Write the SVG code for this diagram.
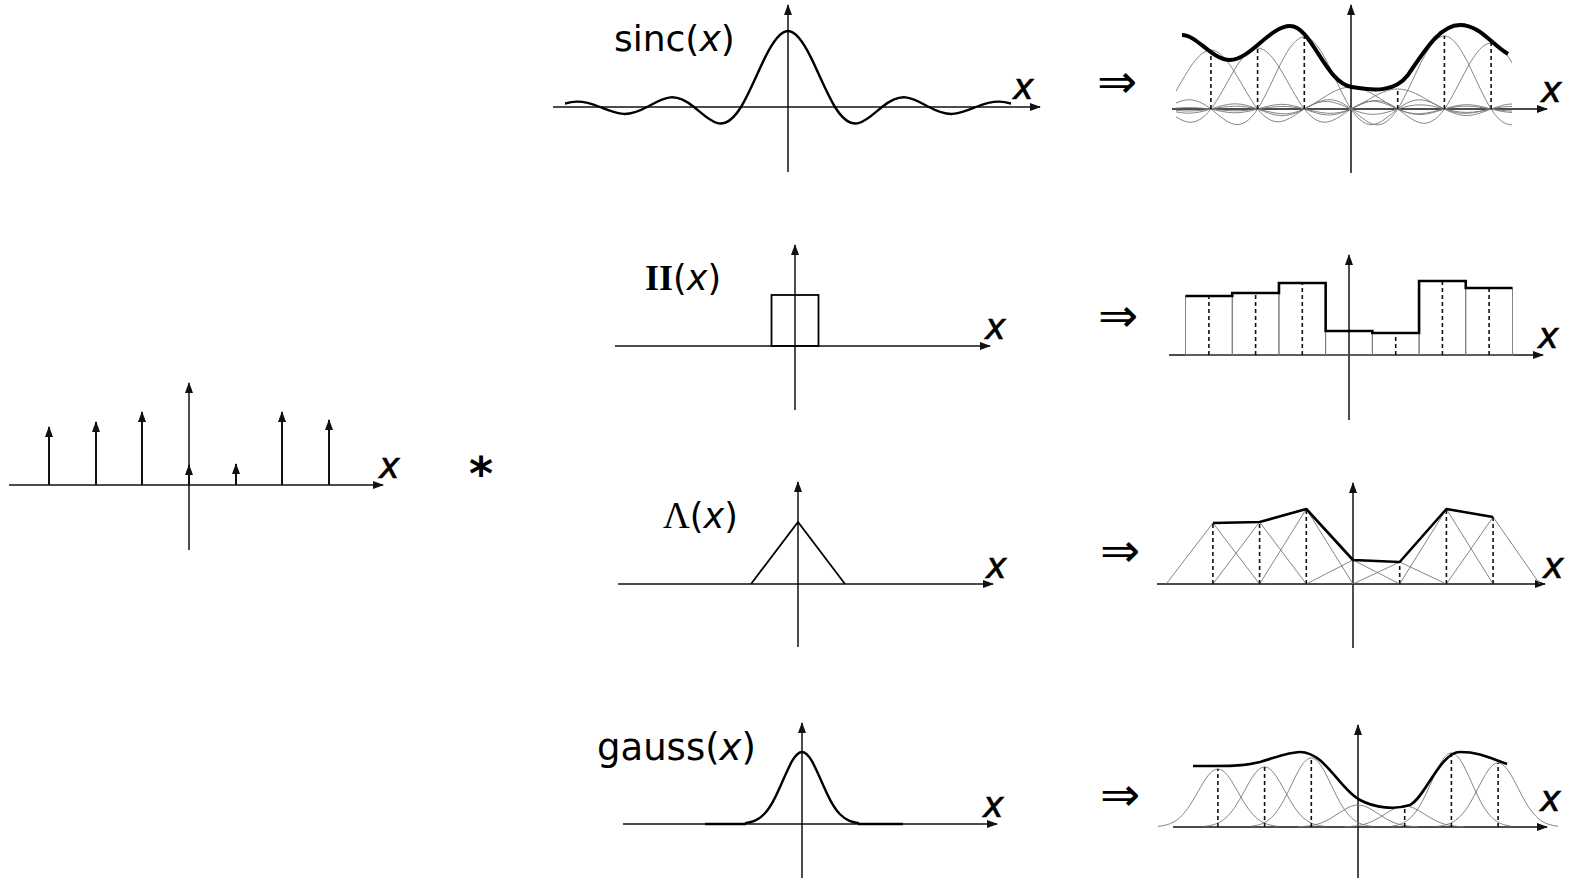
<svg xmlns="http://www.w3.org/2000/svg" width="1572" height="878" viewBox="0 0 1572 878">
<style>
.ax{stroke:#111;stroke-width:1.5;fill:none}
.imp{stroke:#111;stroke-width:2;fill:none}
.ker{stroke:#000;stroke-width:2.4;fill:none}
.thin{stroke:#777;stroke-width:0.9;fill:none}
.dash{stroke:#111;stroke-width:1.6;stroke-dasharray:4 3;fill:none}
.thick{stroke:#000;stroke-width:2.6;fill:none;stroke-linejoin:round}
.lbl{font-family:"DejaVu Sans","Open Sans",sans-serif;fill:#000}
.it{font-style:italic}
.ser{font-family:"Liberation Serif","DejaVu Serif",serif;fill:#000}
.axl{font-family:"DejaVu Sans","Open Sans",sans-serif;font-style:italic;font-size:35px;fill:#000;stroke:#000;stroke-width:0.6}
.arr{font-family:"DejaVu Sans",sans-serif;font-size:48px;fill:#000;text-anchor:middle}
</style>
<defs>
<marker id="ah" viewBox="0 0 11 8" refX="10" refY="4" markerWidth="11" markerHeight="8" markerUnits="userSpaceOnUse" orient="auto"><path d="M0,0 L11,4 L0,8 z" fill="#111"/></marker>
<path id="sinc" vector-effect="non-scaling-stroke" fill="none" d="M-6,0 C-5.8333,0.0278 -5.6667,0.0561 -5.5,0.0579 C-5.3333,0.0596 -5.1667,0.0333 -5,0 C-4.8333,-0.0333 -4.6667,-0.0681 -4.5,-0.0707 C-4.3333,-0.0734 -4.1667,-0.0417 -4,0 C-3.8333,0.0417 -3.6667,0.0866 -3.5,0.0910 C-3.3333,0.0953 -3.1667,0.0556 -3,0 C-2.8333,-0.0556 -2.6667,-0.1188 -2.5,-0.1273 C-2.3333,-0.1358 -2.1667,-0.0833 -2,0 C-1.8333,0.0833 -1.6667,0.1886 -1.5,0.2122 C-1.3333,0.2358 -1.1667,0.1667 -1,0 C-0.8333,-0.1667 -0.6667,-0.4244 -0.5,-0.6366 C-0.3333,-0.8488 -0.1667,-1 0,-1 C0.1667,-1 0.3333,-0.8488 0.5,-0.6366 C0.6667,-0.4244 0.8333,-0.1667 1,0 C1.1667,0.1667 1.3333,0.2358 1.5,0.2122 C1.6667,0.1886 1.8333,0.0833 2,0 C2.1667,-0.0833 2.3333,-0.1358 2.5,-0.1273 C2.6667,-0.1188 2.8333,-0.0556 3,0 C3.1667,0.0556 3.3333,0.0953 3.5,0.0910 C3.6667,0.0866 3.8333,0.0417 4,0 C4.1667,-0.0417 4.3333,-0.0734 4.5,-0.0707 C4.6667,-0.0681 4.8333,-0.0333 5,0 C5.1667,0.0333 5.3333,0.0596 5.5,0.0579 C5.6667,0.0561 5.8333,0.0278 6,0"/>
<path id="gauss" vector-effect="non-scaling-stroke" fill="none" d="M-3,-0.0111 C-2.8333,-0.0167 -2.6667,-0.0256 -2.5,-0.0439 C-2.3333,-0.0623 -2.1667,-0.0902 -2,-0.1353 C-1.8333,-0.1805 -1.6667,-0.2435 -1.5,-0.3247 C-1.3333,-0.4058 -1.1667,-0.5054 -1,-0.6065 C-0.8333,-0.7076 -0.6667,-0.8090 -0.5,-0.8825 C-0.3333,-0.9560 -0.1667,-1 0,-1 C0.1667,-1 0.3333,-0.9560 0.5,-0.8825 C0.6667,-0.8090 0.8333,-0.7076 1,-0.6065 C1.1667,-0.5054 1.3333,-0.4058 1.5,-0.3247 C1.6667,-0.2435 1.8333,-0.1805 2,-0.1353 C2.1667,-0.0902 2.3333,-0.0623 2.5,-0.0439 C2.6667,-0.0256 2.8333,-0.0167 3,-0.0111"/>
<clipPath id="clipL"><rect x="565" y="0" width="446" height="200"/></clipPath>
<clipPath id="clipR"><rect x="1176" y="0" width="336" height="200"/></clipPath>
</defs>
<rect width="1572" height="878" fill="#fff"/>

<g id="impulse-train">
<line class="ax" x1="9" y1="485" x2="383" y2="485" marker-end="url(#ah)"/>
<line class="ax" x1="189" y1="550" x2="189" y2="383" marker-end="url(#ah)"/>
<line class="imp" x1="49" y1="485" x2="49" y2="427" marker-end="url(#ah)"/>
<line class="imp" x1="96" y1="485" x2="96" y2="422" marker-end="url(#ah)"/>
<line class="imp" x1="142" y1="485" x2="142" y2="412" marker-end="url(#ah)"/>
<line class="imp" x1="189" y1="485" x2="189" y2="465" marker-end="url(#ah)"/>
<line class="imp" x1="236" y1="485" x2="236" y2="464" marker-end="url(#ah)"/>
<line class="imp" x1="282" y1="485" x2="282" y2="412" marker-end="url(#ah)"/>
<line class="imp" x1="329" y1="485" x2="329" y2="420" marker-end="url(#ah)"/>
<text class="axl" x="379" y="478">x</text>
</g>

<g id="convolution-symbol">
<text class="lbl" x="481" y="490" font-size="46" font-weight="bold" text-anchor="middle">*</text>
</g>

<g id="kernel-sinc">
<line class="ax" x1="553" y1="107" x2="1040" y2="107" marker-end="url(#ah)"/>
<line class="ax" x1="788" y1="172" x2="788" y2="5" marker-end="url(#ah)"/>
<g clip-path="url(#clipL)"><use href="#sinc" class="ker" transform="translate(788,107) scale(47,76)"/></g>
<text class="lbl" x="614" y="51" font-size="36">sinc(<tspan class="it">x</tspan>)</text>
<text class="axl" x="1013" y="99">x</text>
</g>

<g id="kernel-box">
<line class="ax" x1="615" y1="346" x2="990" y2="346" marker-end="url(#ah)"/>
<line class="ax" x1="795" y1="410" x2="795" y2="245" marker-end="url(#ah)"/>
<rect class="ker" x="771.5" y="295" width="47" height="51" style="stroke-width:1.8"/>
<text x="645" y="290"><tspan class="ser" font-size="36" font-weight="bold">II</tspan><tspan class="lbl" font-size="35">(<tspan class="it">x</tspan>)</tspan></text>
<text class="axl" x="985" y="339">x</text>
</g>

<g id="kernel-triangle">
<line class="ax" x1="618" y1="584" x2="993" y2="584" marker-end="url(#ah)"/>
<line class="ax" x1="798" y1="647" x2="798" y2="482" marker-end="url(#ah)"/>
<path class="ker" d="M751,584 L798,522 L845,584" style="stroke-width:1.8"/>
<text x="663" y="528"><tspan class="ser" font-size="37">Λ</tspan><tspan class="lbl" font-size="35">(<tspan class="it">x</tspan>)</tspan></text>
<text class="axl" x="986" y="578">x</text>
</g>

<g id="kernel-gauss">
<line class="ax" x1="623" y1="824" x2="997" y2="824" marker-end="url(#ah)"/>
<line class="ax" x1="802" y1="878" x2="802" y2="723" marker-end="url(#ah)"/>
<use href="#gauss" class="ker" transform="translate(802,824) scale(19,72)"/>
<path class="ker" d="M705,824 H746 M858,824 H903"/>
<text class="lbl" x="597" y="760" font-size="37">gauss(<tspan class="it">x</tspan>)</text>
<text class="axl" x="983" y="817">x</text>
</g>

<g id="implies">
<text class="arr" x="1117" y="98">⇒</text>
<text class="arr" x="1118" y="332">⇒</text>
<text class="arr" x="1120" y="567">⇒</text>
<text class="arr" x="1120" y="811">⇒</text>
</g>

<g id="result-sinc">
<line class="ax" x1="1172" y1="109" x2="1547" y2="109" marker-end="url(#ah)"/>
<line class="ax" x1="1351" y1="173" x2="1351" y2="5" marker-end="url(#ah)"/>
<g clip-path="url(#clipR)" class="thin">
<use href="#sinc" transform="translate(1210.9,109) scale(46.7,59)"/>
<use href="#sinc" transform="translate(1257.6,109) scale(46.7,61)"/>
<use href="#sinc" transform="translate(1304.3,109) scale(46.7,72)"/>
<use href="#sinc" transform="translate(1351,109) scale(46.7,22)"/>
<use href="#sinc" transform="translate(1397.7,109) scale(46.7,20)"/>
<use href="#sinc" transform="translate(1444.4,109) scale(46.7,73)"/>
<use href="#sinc" transform="translate(1491.1,109) scale(46.7,66)"/>
</g>
<path class="dash" d="M1210.9,109 V50 M1257.6,109 V48 M1304.3,109 V37 M1397.7,109 V89 M1444.4,109 V36 M1491.1,109 V43"/>
<path class="thick" style="stroke-width:4" d="M1182,35 C1197,35 1212,60 1230,60 C1250,60 1270,26 1290,26 C1312,26 1325,83 1352,87 C1375,91 1395,92 1408,75 C1425,50 1440,25 1460,25 C1480,25 1492,45 1508,54"/>
<text class="axl" x="1541" y="102">x</text>
</g>

<g id="result-box">
<line class="ax" x1="1169" y1="355" x2="1543" y2="355" marker-end="url(#ah)"/>
<line class="ax" x1="1349" y1="420" x2="1349" y2="255" marker-end="url(#ah)"/>
<g class="thin">
<rect x="1185.55" y="296" width="46.7" height="59"/>
<rect x="1232.25" y="293" width="46.7" height="62"/>
<rect x="1278.95" y="283" width="46.7" height="72"/>
<rect x="1325.65" y="331" width="46.7" height="24"/>
<rect x="1372.35" y="333" width="46.7" height="22"/>
<rect x="1419.05" y="281" width="46.7" height="74"/>
<rect x="1465.75" y="288" width="46.7" height="67"/>
</g>
<path class="dash" d="M1208.9,355 V296 M1255.6,355 V293 M1302.3,355 V283 M1395.7,355 V335 M1442.4,355 V281 M1489.1,355 V288"/>
<path class="thick" style="stroke-linejoin:miter" d="M1185.55,296 H1232.25 V293 H1278.95 V283 H1325.65 V331 H1372.35 V333 H1419.05 V281 H1465.75 V288 H1512.45"/>
<text class="axl" x="1538" y="348">x</text>
</g>

<g id="result-triangle">
<line class="ax" x1="1157" y1="584" x2="1545" y2="584" marker-end="url(#ah)"/>
<line class="ax" x1="1353" y1="648" x2="1353" y2="483" marker-end="url(#ah)"/>
<path class="thin" d="M1166.2,584 L1212.9,523 L1259.6,584 M1212.9,584 L1259.6,522 L1306.3,584 M1259.6,584 L1306.3,509 L1353,584 M1306.3,584 L1353,560 L1399.7,584 M1353,584 L1399.7,562 L1446.4,584 M1399.7,584 L1446.4,509 L1493.1,584 M1446.4,584 L1493.1,517 L1539.8,584"/>
<path class="dash" d="M1212.9,584 V523 M1259.6,584 V522 M1306.3,584 V509 M1399.7,584 V562 M1446.4,584 V509 M1493.1,584 V517"/>
<path class="thick" d="M1212.9,523 L1259.6,522 L1306.3,509 L1353,560 L1399.7,562 L1446.4,509 L1493.1,517"/>
<text class="axl" x="1543" y="578">x</text>
</g>

<g id="result-gauss">
<line class="ax" x1="1173" y1="827" x2="1547" y2="827" marker-end="url(#ah)"/>
<line class="ax" x1="1358" y1="878" x2="1358" y2="725" marker-end="url(#ah)"/>
<g class="thin">
<use href="#gauss" transform="translate(1217.9,827) scale(20,58)"/>
<use href="#gauss" transform="translate(1264.6,827) scale(20,60)"/>
<use href="#gauss" transform="translate(1311.3,827) scale(20,69)"/>
<use href="#gauss" transform="translate(1358,827) scale(20,22)"/>
<use href="#gauss" transform="translate(1404.7,827) scale(20,21)"/>
<use href="#gauss" transform="translate(1451.4,827) scale(20,74)"/>
<use href="#gauss" transform="translate(1498.1,827) scale(20,64)"/>
</g>
<path class="dash" d="M1217.9,827 V769 M1264.6,827 V767 M1311.3,827 V758 M1404.7,827 V806 M1451.4,827 V753 M1498.1,827 V763"/>
<path class="thick" d="M1193,766 C1220,766 1240,767 1260,762 C1280,756 1290,752 1300,752 C1325,752 1340,790 1360,800 C1375,808 1395,810 1410,805 C1425,798 1440,752 1460,752 C1480,752 1490,758 1507,764"/>
<text class="axl" x="1540" y="811">x</text>
</g>
</svg>
